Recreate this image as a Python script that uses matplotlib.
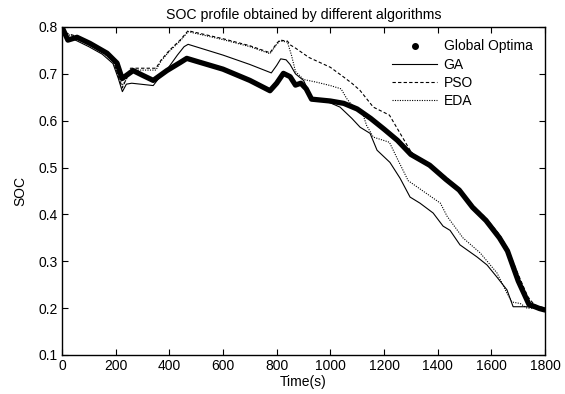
import matplotlib.pyplot as plt
from matplotlib.lines import Line2D
import matplotlib.ticker as ticker

plt.rcParams['font.family'] = ['Liberation Sans', 'DejaVu Sans']

#------------------------------------------------------------------------------
# SOC trajectories (time in s, state of charge)

# Global optimum
go_t = [0, 4, 22, 56, 104, 168, 205, 224, 265, 300, 340, 391, 440, 465, 500, 600, 700,
        775, 800, 825, 850, 870, 890, 910, 930, 1000, 1050, 1100, 1150, 1200, 1250,
        1300, 1370, 1430, 1480, 1530, 1580, 1630, 1660, 1700, 1740, 1780, 1800]
go_soc = [0.797, 0.795, 0.772, 0.778, 0.765, 0.744, 0.723, 0.690, 0.707, 0.697, 0.686,
          0.707, 0.724, 0.733, 0.727, 0.710, 0.686, 0.664, 0.680, 0.701, 0.694, 0.676,
          0.680, 0.668, 0.646, 0.642, 0.637, 0.625, 0.605, 0.582, 0.558, 0.528, 0.505,
          0.475, 0.452, 0.415, 0.387, 0.350, 0.322, 0.258, 0.208, 0.199, 0.196]

# GA
ga_t = [0, 20, 50, 100, 150, 190, 210, 225, 240, 260, 340, 360, 390, 430, 455, 470,
        600, 700, 780, 800, 815, 835, 850, 870, 900, 930, 1000, 1036, 1080, 1111, 1148,
        1174, 1222, 1260, 1297, 1334, 1383, 1420, 1446, 1483, 1547, 1584, 1621, 1658,
        1681, 1733, 1760, 1800]
ga_soc = [0.797, 0.780, 0.772, 0.758, 0.742, 0.722, 0.690, 0.662, 0.678, 0.680, 0.675,
          0.690, 0.708, 0.740, 0.758, 0.763, 0.740, 0.720, 0.702, 0.718, 0.732, 0.730,
          0.720, 0.700, 0.686, 0.650, 0.638, 0.629, 0.605, 0.586, 0.573, 0.537, 0.511,
          0.477, 0.437, 0.424, 0.403, 0.375, 0.366, 0.335, 0.309, 0.292, 0.266, 0.239,
          0.203, 0.203, 0.200, 0.197]

# PSO
pso_t = [0, 20, 50, 100, 150, 190, 215, 225, 240, 255, 350, 370, 400, 440, 470, 600,
         700, 775, 800, 812, 840, 850, 870, 920, 1000, 1050, 1080, 1110, 1160, 1220,
         1260, 1297, 1310, 1370, 1430, 1480, 1530, 1580, 1630, 1660, 1700, 1735, 1760,
         1800]
pso_soc = [0.797, 0.786, 0.781, 0.766, 0.749, 0.731, 0.685, 0.670, 0.690, 0.712, 0.712,
           0.730, 0.750, 0.772, 0.792, 0.775, 0.760, 0.745, 0.765, 0.772, 0.770, 0.762,
           0.755, 0.735, 0.714, 0.693, 0.680, 0.665, 0.629, 0.612, 0.573, 0.537, 0.528,
           0.507, 0.480, 0.454, 0.420, 0.392, 0.357, 0.328, 0.272, 0.225, 0.207, 0.200]

# EDA
eda_t = [0, 20, 50, 100, 150, 190, 215, 225, 240, 255, 350, 370, 400, 440, 470, 600,
         700, 775, 800, 812, 840, 855, 870, 900, 950, 1000, 1040, 1060, 1075, 1120, 1135,
         1160, 1220, 1252, 1290, 1340, 1410, 1435, 1494, 1558, 1621, 1658, 1677, 1707,
         1733, 1800]
eda_soc = [0.797, 0.784, 0.779, 0.762, 0.746, 0.728, 0.690, 0.675, 0.688, 0.708, 0.708,
           0.728, 0.748, 0.770, 0.790, 0.773, 0.758, 0.743, 0.763, 0.770, 0.768, 0.740,
           0.705, 0.688, 0.682, 0.675, 0.668, 0.648, 0.637, 0.616, 0.590, 0.565, 0.554,
           0.516, 0.472, 0.452, 0.424, 0.396, 0.350, 0.318, 0.275, 0.232, 0.213, 0.210,
           0.200, 0.200]

#------------------------------------------------------------------------------
# PLOT THE GRAPH

fig = plt.figure(figsize=(5.65, 3.94), dpi=100)
ax = fig.add_axes([0.1097, 0.099, 0.855, 0.8325])

ax.plot(go_t, go_soc, '-', color='black', lw=3.8, solid_joinstyle='round', solid_capstyle='round')
ax.plot(ga_t, ga_soc, '-', color='black', lw=0.8)
ax.plot(pso_t, pso_soc, '--', color='black', lw=0.8, dashes=(3, 2))
ax.plot(eda_t, eda_soc, ':', color='black', lw=0.8, dashes=(1, 1.2))

# Axis limits and ticks (inward, on all sides)
ax.set_xlim(0, 1800)
ax.set_ylim(0.1, 0.8)
ax.xaxis.set_major_locator(ticker.MultipleLocator(200))
ax.yaxis.set_major_locator(ticker.MultipleLocator(0.1))
ax.yaxis.set_major_formatter(ticker.FormatStrFormatter('%.1f'))
ax.tick_params(direction='in', top=True, right=True, length=4, width=0.8, labelsize=10, pad=3)
for s in ax.spines.values():
    s.set_linewidth(1.0)

# Axis labels, title and legend
ax.set_xlabel('Time(s)', fontsize=10, labelpad=1)
ax.set_ylabel('SOC', fontsize=10, labelpad=8)
ax.set_title('SOC profile obtained by different algorithms', fontsize=10.2, pad=6)

handles = [Line2D([], [], marker='o', ms=4, ls='none', color='black'),
           Line2D([], [], ls='-', lw=0.8, color='black'),
           Line2D([], [], ls='--', lw=0.8, dashes=(3, 2), color='black'),
           Line2D([], [], ls=':', lw=0.8, dashes=(1, 1.2), color='black')]
ax.legend(handles, ['Global Optima', 'GA', 'PSO', 'EDA'], loc='upper right', frameon=False,
          fontsize=10, handlelength=3.2, labelspacing=0.3, borderaxespad=0.5, handletextpad=0.5)

fig.savefig('out.png', dpi=100)
